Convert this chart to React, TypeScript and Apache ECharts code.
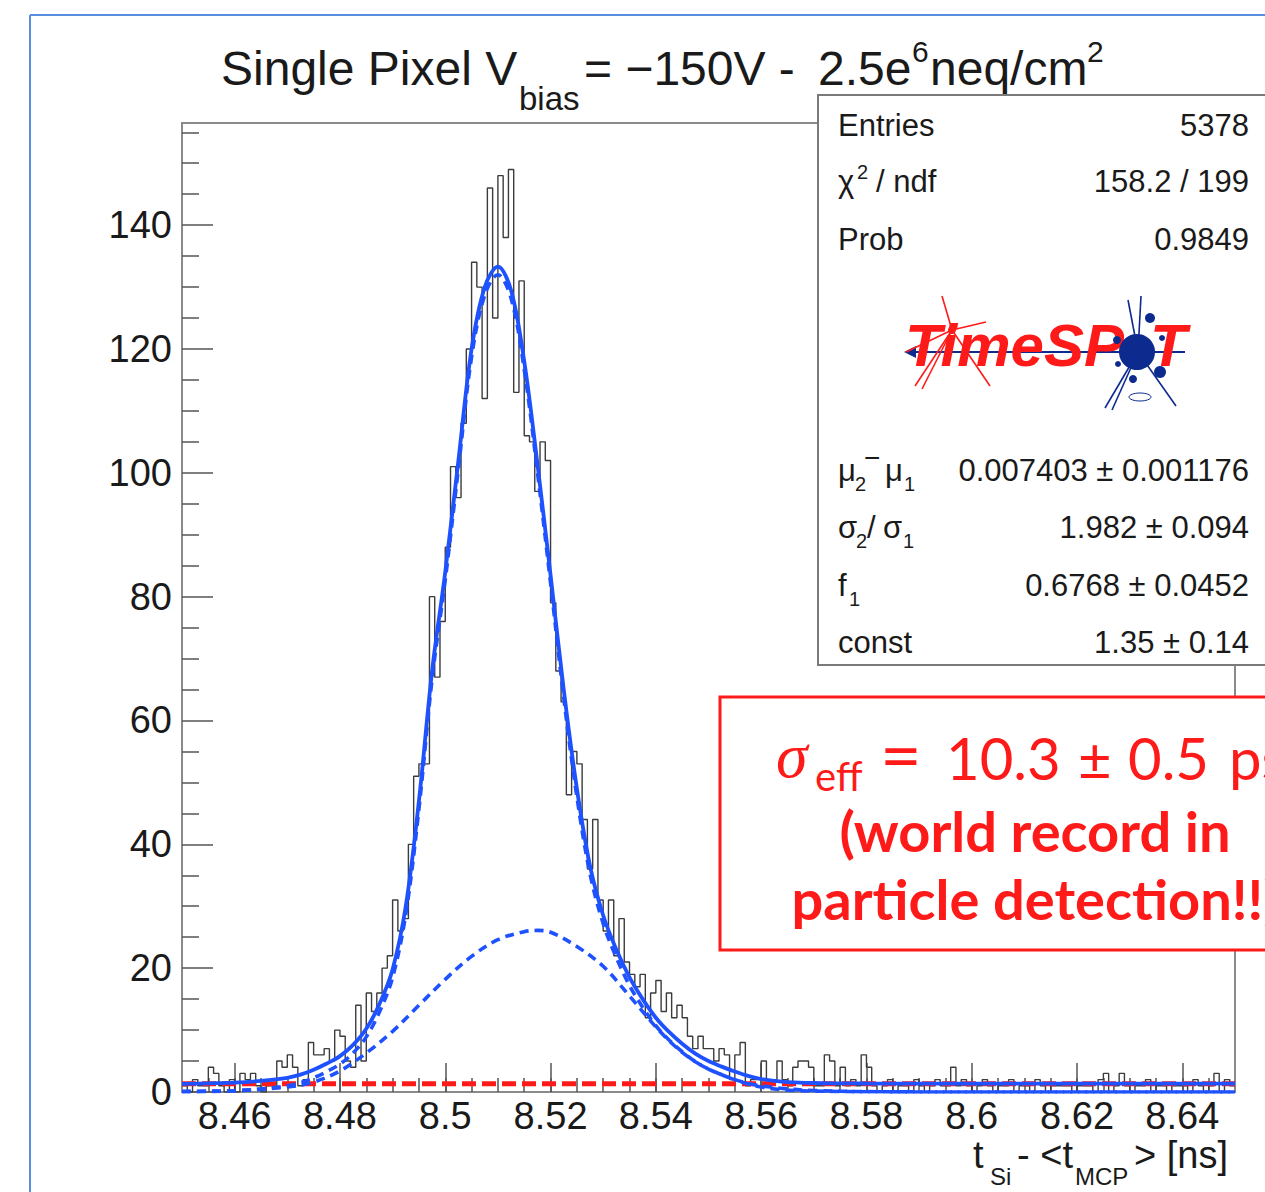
import React, { useEffect, useRef } from 'react';
import * as echarts from 'echarts';

// ---------- data ----------
const BIN_START = 8.45;
const BIN_WIDTH = 0.001;
const binCounts = [
  1, 0, 2, 1, 1, 4, 3, 1, 0, 2,
  0, 3, 2, 3, 1, 0, 1, 1, 5, 4,
  6, 4, 1, 2, 8, 6, 6, 7, 5, 10,
  9, 5, 4, 14, 5, 16, 13, 16, 20, 22,
  31, 26, 28, 40, 51, 53, 53, 80, 67, 76,
  88, 101, 96, 108, 120, 134, 130, 112, 146, 125,
  148, 138, 149, 113, 131, 106, 105, 97, 105, 102,
  79, 68, 63, 48, 55, 53, 44, 36, 44, 31,
  26, 31, 22, 28, 21, 19, 17, 19, 12, 16,
  18, 13, 16, 12, 14, 12, 9, 7, 9, 7,
  7, 5, 7, 6, 2, 6, 8, 1, 2, 2,
  5, 1, 2, 5, 2, 1, 4, 5, 5, 4,
  1, 1, 6, 5, 1, 4, 1, 2, 1, 6,
  4, 1, 0, 1, 2, 0, 1, 1, 0, 2,
  1, 0, 1, 2, 1, 1, 4, 1, 2, 1,
  0, 1, 2, 1, 0, 1, 1, 2, 0, 1,
  1, 0, 2, 1, 0, 1, 1, 1, 1, 0,
  1, 1, 1, 0, 2, 3, 0, 1, 3, 1,
  0, 1, 1, 2, 0, 1, 1, 0, 1, 1,
  1, 0, 2, 1, 0, 1, 3, 0, 2, 1,
];

const fitX = [
  8.45, 8.455, 8.46, 8.465, 8.47, 8.4725, 8.475, 8.4775, 8.48, 8.4825,
  8.485, 8.4875, 8.49, 8.4925, 8.495, 8.4975, 8.5, 8.5025, 8.505, 8.5075,
  8.51, 8.5125, 8.515, 8.5175, 8.52, 8.5225, 8.525, 8.5275, 8.53, 8.5325,
  8.535, 8.5375, 8.54, 8.5425, 8.545, 8.5475, 8.55, 8.5525, 8.555, 8.5575,
  8.56, 8.5625, 8.565, 8.57, 8.575, 8.58, 8.6, 8.62, 8.65,
];
const totalFit = [
  1.3, 1.4, 1.5, 1.8, 2.3, 2.8, 3.6, 4.6, 5.8, 7.6,
  10.2, 14.2, 19.8, 30, 47, 68, 84, 102, 120, 130,
  133.3, 129.5, 118, 101.5, 83.5, 65, 49, 36.5, 28.5, 23,
  18.5, 15, 12, 9.7, 7.8, 6.2, 5, 4.1, 3.3, 2.6,
  2.1, 1.8, 1.6, 1.45, 1.4, 1.37, 1.35, 1.35, 1.35,
];
const signalFit = [
  0.1, 0.15, 0.2, 0.5, 1.0, 1.5, 2.3, 3.3, 4.5, 6.3,
  8.9, 12.9, 18.5, 28.7, 45.7, 66.7, 82.7, 100.7, 118.7, 128.7,
  132, 128.2, 116.7, 100.2, 82.2, 63.7, 47.7, 35.2, 27.2, 21.7,
  17.2, 13.7, 10.7, 8.4, 6.5, 4.9, 3.7, 2.8, 2.0, 1.3,
  0.8, 0.5, 0.3, 0.15, 0.08, 0.04, 0, 0, 0,
];
const wideX = [
  8.45, 8.46, 8.47, 8.475, 8.48, 8.485, 8.49, 8.495, 8.5, 8.505,
  8.51, 8.515, 8.5175, 8.52, 8.525, 8.53, 8.535, 8.54, 8.5425, 8.545,
  8.5475, 8.55, 8.5525, 8.555, 8.5575, 8.56, 8.565, 8.57, 8.58, 8.6, 8.65,
];
const wideFit = [
  0.05, 0.2, 0.8, 1.6, 3.4, 6.3, 9.8, 14.0, 18.2, 21.9,
  24.6, 25.9, 26.1, 25.8, 23.5, 20.3, 15.5, 10.5, 8.3, 6.4,
  4.9, 3.7, 2.8, 2.0, 1.4, 1.0, 0.5, 0.25, 0.06, 0, 0,
];
const constX = [8.45, 8.65];
const constFit = [1.35, 1.35];

const xMajorTicks = [8.46, 8.48, 8.5, 8.52, 8.54, 8.56, 8.58, 8.6, 8.62, 8.64];
const xMinorTicks = [
  8.455, 8.46, 8.465, 8.47, 8.475, 8.48, 8.485, 8.49, 8.495, 8.5,
  8.505, 8.51, 8.515, 8.52, 8.525, 8.53, 8.535, 8.54, 8.545, 8.55,
  8.555, 8.56, 8.565, 8.57, 8.575, 8.58, 8.585, 8.59, 8.595, 8.6,
  8.605, 8.61, 8.615, 8.62, 8.625, 8.63, 8.635, 8.64, 8.645,
];
const yMajorTicks = [0, 20, 40, 60, 80, 100, 120, 140];
const yMinorTicks = [5, 10, 15, 25, 30, 35, 45, 50, 55, 65, 70, 75, 85, 90, 95, 105, 110, 115, 125, 130, 135, 145, 150, 155];

const statsValues = [
  '5378',
  '158.2 / 199',
  '0.9849',
  '0.007403 \u00b1 0.001176',
  '1.982 \u00b1 0.094',
  '0.6768 \u00b1 0.0452',
  '1.35 \u00b1 0.14',
];

// ---------- helpers ----------
const SANS = "'Liberation Sans', Arial, Helvetica, sans-serif";
const LATO = "Lato, 'Open Sans', sans-serif";
const SERIF = "'Liberation Serif', 'DejaVu Serif', serif";

type TOpt = { align?: string; color?: string; weight?: string; style?: string; family?: string; k?: number };
function txt(text: string, x: number, base: number, size: number, o: TOpt = {}) {
  const k = o.k ?? 0.347;
  const align = o.align ?? 'left';
  return {
    type: 'text',
    z: 100,
    x,
    y: base - k * size,
    style: {
      text,
      fill: o.color ?? '#1a1a1a',
      fontSize: size,
      fontFamily: o.family ?? SANS,
      fontWeight: o.weight ?? 'normal',
      fontStyle: o.style ?? 'normal',
      align,
      verticalAlign: 'middle',
      textAlign: align,
      textVerticalAlign: 'middle',
    },
  };
}
function seg(x1: number, y1: number, x2: number, y2: number, color: string, w: number) {
  return { type: 'line', z: 100, shape: { x1, y1, x2, y2 }, style: { stroke: color, lineWidth: w } };
}

function buildGraphics() {
  const els: any[] = [];
  const FRAME_BLUE = '#5a8ee0';
  // slide frame
  els.push(seg(30, 15, 1265, 15, FRAME_BLUE, 2));
  els.push(seg(30, 15, 30, 1192, FRAME_BLUE, 2));
  els.push(txt('11', 378, 1212, 30, { color: '#8aaee0' }));

  // title
  els.push(txt('Single Pixel V', 221, 85, 48));
  els.push(txt('bias', 519, 110, 33));
  els.push(txt('= \u2212150V -', 584, 85, 48));
  els.push(txt('2.5e', 818, 85, 48));
  els.push(txt('6', 912, 62, 30));
  els.push(txt('neq/cm', 930, 85, 48));
  els.push(txt('2', 1087, 62, 30));

  // stats box
  els.push({
    type: 'rect', z: 100,
    shape: { x: 818, y: 95, width: 480, height: 570 },
    style: { fill: '#ffffff', stroke: '#7a7a7a', lineWidth: 2 },
  });
  const SS = 31;
  const SUB = 20;
  const rowBase = [136, 192, 250, 481, 538, 596, 653];
  els.push(txt('Entries', 838, rowBase[0], SS));
  els.push(txt('\u03c7', 838, rowBase[1], SS));
  els.push(txt('2', 857, rowBase[1] - 13, SUB));
  els.push(txt('/ ndf', 876, rowBase[1], SS));
  els.push(txt('Prob', 838, rowBase[2], SS));
  els.push(txt('\u03bc', 838, rowBase[3], SS));
  els.push(txt('2', 855, rowBase[3] + 10, SUB));
  els.push(txt('\u2212', 864, rowBase[3] - 14, 28));
  els.push(txt('\u03bc', 885, rowBase[3], SS));
  els.push(txt('1', 904, rowBase[3] + 10, SUB));
  els.push(txt('\u03c3', 838, rowBase[4], SS));
  els.push(txt('2', 856, rowBase[4] + 10, SUB));
  els.push(txt('/', 867, rowBase[4], SS));
  els.push(txt('\u03c3', 883, rowBase[4], SS));
  els.push(txt('1', 903, rowBase[4] + 10, SUB));
  els.push(txt('f', 838, rowBase[5], SS));
  els.push(txt('1', 849, rowBase[5] + 10, SUB));
  els.push(txt('const', 838, rowBase[6], SS));
  statsValues.forEach((v, i) => els.push(txt(v, 1249, rowBase[i], SS, { align: 'right' })));

  // TimeSPOT logo (approximation)
  const RED = '#ff1a1a';
  const NAVY = '#0d2a8f';
  els.push(seg(910, 352, 1185, 352, NAVY, 2));
  els.push({ type: 'polygon', z: 100, shape: { points: [[904, 352], [916, 346], [916, 358]] }, style: { fill: NAVY } });
  els.push({
    type: 'text', z: 100, x: 905, y: 375,
    style: { text: 'TimeSP', fill: RED, fontSize: 60, fontFamily: SANS, fontWeight: 'bold', fontStyle: 'italic', align: 'left', verticalAlign: 'bottom', textAlign: 'left', textVerticalAlign: 'bottom' },
  });
  els.push({
    type: 'text', z: 100, x: 1150, y: 375,
    style: { text: 'T', fill: RED, fontSize: 60, fontFamily: SANS, fontWeight: 'bold', fontStyle: 'italic', align: 'left', verticalAlign: 'bottom', textAlign: 'left', textVerticalAlign: 'bottom' },
  });
  // red tracks
  [[942, 296], [990, 386], [986, 322], [915, 386], [922, 389], [906, 352]].forEach(([x, y]) =>
    els.push(seg(952, 330, x, y, RED, 1.6)));
  els.push({ type: 'circle', z: 100, shape: { cx: 952, cy: 330, r: 4 }, style: { fill: RED } });
  // blue splash
  [[1105, 408], [1112, 410], [1176, 406], [1141, 296], [1128, 300]].forEach(([x, y]) =>
    els.push(seg(1138, 352, x, y, NAVY, 1.6)));
  els.push({ type: 'circle', z: 100, shape: { cx: 1137, cy: 352, r: 18 }, style: { fill: NAVY } });
  [[1150, 318, 5], [1160, 372, 6], [1117, 340, 4], [1133, 379, 4], [1162, 338, 3], [1118, 364, 3]].forEach(([cx, cy, r]) =>
    els.push({ type: 'circle', z: 100, shape: { cx, cy, r }, style: { fill: NAVY } }));
  els.push({ type: 'ellipse', z: 100, shape: { cx: 1140, cy: 397, rx: 11, ry: 4 }, style: { fill: 'none', stroke: NAVY, lineWidth: 1 } });

  // red highlight box
  els.push({
    type: 'rect', z: 100,
    shape: { x: 720, y: 697, width: 600, height: 253 },
    style: { fill: '#ffffff', stroke: '#ff1a1a', lineWidth: 3 },
  });
  els.push(txt('\u03c3', 776, 778, 64, { color: RED, family: SERIF, style: 'italic' }));
  els.push(txt('eff', 815, 790, 40, { color: RED, family: LATO }));
  els.push(txt('=', 880, 778, 72, { color: RED, family: LATO }));
  els.push(txt('10.3', 946, 778, 58, { color: RED, family: LATO }));
  els.push(txt('\u00b1', 1078, 778, 58, { color: RED, family: LATO }));
  els.push(txt('0.5', 1128, 778, 58, { color: RED, family: LATO }));
  els.push(txt('ps', 1229, 778, 58, { color: RED, family: LATO }));
  els.push(txt('(world record in', 1035, 850, 56, { color: RED, family: LATO, weight: 'bold', align: 'center' }));
  els.push(txt('particle detection!!)', 1035, 918, 56, { color: RED, family: LATO, weight: 'bold', align: 'center' }));

  // x axis title
  els.push(txt('t', 973, 1168, 38));
  els.push(txt('Si', 990, 1185, 24));
  els.push(txt('- <t', 1017, 1168, 38));
  els.push(txt('MCP', 1075, 1185, 24));
  els.push(txt('> [ns]', 1134, 1168, 38));
  return els;
}

export default function App() {
  const ref = useRef<HTMLDivElement | null>(null);
  useEffect(() => {
    if (!ref.current) return;
    const chart = echarts.init(ref.current, null, { renderer: 'svg' });

    const histData: number[][] = binCounts.map((c, i) => [+(BIN_START + i * BIN_WIDTH).toFixed(4), c]);
    histData.push([+(BIN_START + binCounts.length * BIN_WIDTH).toFixed(4), binCounts[binCounts.length - 1]]);
    const pair = (xs: number[], ys: number[]) => xs.map((x, i) => [x, ys[i]]);

    const TICK = { color: '#555', width: 1.5 };
    const BLUE = '#1f52ff';

    chart.setOption({
      animation: false,
      backgroundColor: '#ffffff',
      grid: {
        left: 182, top: 123, width: 1053, height: 969,
        show: true, borderColor: '#8a8a8a', borderWidth: 2, backgroundColor: 'transparent',
        containLabel: false, outerBoundsMode: 'none',
      },
      xAxis: [
        {
          type: 'value', min: 8.45, max: 8.65, position: 'bottom',
          axisLine: { show: false },
          axisTick: { show: true, inside: true, length: 29, customValues: xMajorTicks, lineStyle: TICK },
          axisLabel: {
            show: true, customValues: xMajorTicks, margin: 5, fontSize: 38, color: '#1a1a1a', fontFamily: SANS,
            formatter: (v: number) => String(Math.round(v * 1000) / 1000),
          },
          splitLine: { show: false },
        },
        {
          type: 'value', min: 8.45, max: 8.65, position: 'bottom',
          axisLine: { show: false },
          axisTick: { show: true, inside: true, length: 14, customValues: xMinorTicks, lineStyle: TICK },
          axisLabel: { show: false },
          splitLine: { show: false },
        },
      ],
      yAxis: [
        {
          type: 'value', min: 0, max: 156.5, position: 'left',
          axisLine: { show: false },
          axisTick: { show: true, inside: true, length: 31, customValues: yMajorTicks, lineStyle: TICK },
          axisLabel: { show: true, customValues: yMajorTicks, margin: 10, fontSize: 38, color: '#1a1a1a', fontFamily: SANS },
          splitLine: { show: false },
        },
        {
          type: 'value', min: 0, max: 156.5, position: 'left',
          axisLine: { show: false },
          axisTick: { show: true, inside: true, length: 17, customValues: yMinorTicks, lineStyle: TICK },
          axisLabel: { show: false },
          splitLine: { show: false },
        },
      ],
      series: [
        {
          type: 'line', name: 'hist', step: 'end', data: histData, showSymbol: false, symbol: 'none',
          lineStyle: { color: '#3c3c3c', width: 1.4 }, z: 2,
        },
        {
          type: 'line', name: 'const', data: pair(constX, constFit), showSymbol: false, symbol: 'none',
          lineStyle: { color: '#ff1a1a', width: 5, type: [14, 6] }, z: 3,
        },
        {
          type: 'line', name: 'wide', data: pair(wideX, wideFit), smooth: 0.35, showSymbol: false, symbol: 'none',
          lineStyle: { color: BLUE, width: 3.6, type: [9, 6] }, z: 4,
        },
        {
          type: 'line', name: 'signal', data: pair(fitX, signalFit), smooth: 0.35, showSymbol: false, symbol: 'none',
          lineStyle: { color: BLUE, width: 3.6, type: [9, 6] }, z: 4,
        },
        {
          type: 'line', name: 'total', data: pair(fitX, totalFit), smooth: 0.35, showSymbol: false, symbol: 'none',
          lineStyle: { color: BLUE, width: 3.8 }, z: 5,
        },
      ],
      graphic: { elements: buildGraphics() },
    });
    return () => chart.dispose();
  }, []);

  return (
    <div
      ref={ref}
      style={{ position: 'absolute', left: 0, top: 0, width: 1265, height: 1192, background: '#fff' }}
    />
  );
}
